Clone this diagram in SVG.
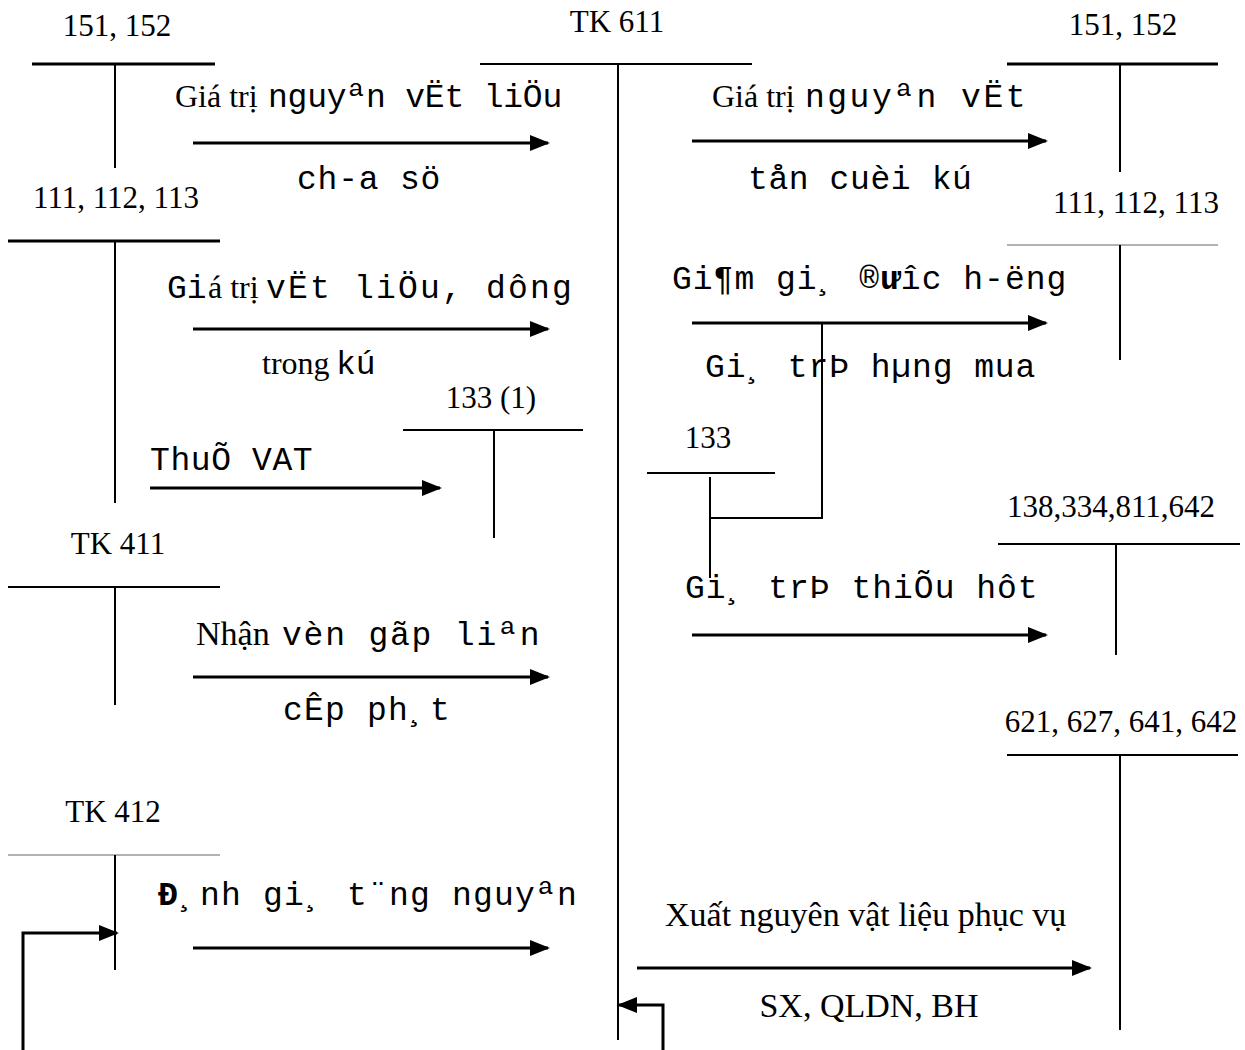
<svg xmlns="http://www.w3.org/2000/svg" width="1245" height="1050" viewBox="0 0 1245 1050">
<style>
.s{font-family:"Liberation Serif","Times New Roman",serif;font-size:32px;fill:#000}
.lbl{font-family:"Liberation Serif","Times New Roman",serif;font-size:31px;fill:#000}
.big{font-family:"Liberation Serif","Times New Roman",serif;font-size:34px;fill:#000}
.mono{font-family:"Liberation Mono","Courier New",monospace;font-size:33px;fill:#000}
.t{stroke:#000;stroke-width:2;fill:none}
.tk{stroke:#000;stroke-width:3;fill:none}
.tg{stroke:#999;stroke-width:1.5;fill:none}
.a{stroke:#000;stroke-width:3;fill:none;marker-end:url(#ah)}
</style>
<defs>
<marker id="ah" markerUnits="userSpaceOnUse" markerWidth="20" markerHeight="16" refX="18" refY="8" orient="auto">
<path d="M0,0 L20,8 L0,16 Z" fill="#000"/>
</marker>
</defs>
<rect width="1245" height="1050" fill="#fff"/>

<g id="tk611">
<text class="lbl" x="617" y="32" text-anchor="middle">TK 611</text>
<line class="t" x1="480" y1="64" x2="752" y2="64"/>
<line class="t" x1="618" y1="64" x2="618" y2="1040"/>
</g>
<g id="acc151L">
<text class="lbl" x="117" y="36" text-anchor="middle">151, 152</text>
<line class="tk" x1="32" y1="64" x2="215" y2="64"/>
<line class="t" x1="115" y1="64" x2="115" y2="168"/>
</g>
<g id="acc151R">
<text class="lbl" x="1123" y="35" text-anchor="middle">151, 152</text>
<line class="tk" x1="1007" y1="64" x2="1218" y2="64"/>
<line class="t" x1="1120" y1="64" x2="1120" y2="172"/>
</g>
<g id="acc111L">
<text class="lbl" x="116" y="208" text-anchor="middle">111, 112, 113</text>
<line class="tk" x1="8" y1="241" x2="220" y2="241"/>
<line class="t" x1="115" y1="241" x2="115" y2="503"/>
</g>
<g id="acc111R">
<text class="lbl" x="1136" y="213" text-anchor="middle">111, 112, 113</text>
<line class="tg" x1="1007" y1="245" x2="1218" y2="245"/>
<line class="t" x1="1120" y1="245" x2="1120" y2="360"/>
</g>
<g id="acc133-1">
<text class="lbl" x="491" y="408" text-anchor="middle">133 (1)</text>
<line class="t" x1="403" y1="430" x2="583" y2="430"/>
<line class="t" x1="494" y1="430" x2="494" y2="538"/>
</g>
<g id="acc133">
<text class="lbl" x="708" y="448" text-anchor="middle">133</text>
<line class="t" x1="647" y1="473" x2="775" y2="473"/>
<line class="t" x1="710" y1="477" x2="710" y2="578"/>
</g>
<g id="acc138">
<text class="lbl" x="1111" y="517" text-anchor="middle">138,334,811,642</text>
<line class="t" x1="998" y1="544" x2="1240" y2="544"/>
<line class="t" x1="1116" y1="544" x2="1116" y2="655"/>
</g>
<g id="tk411">
<text class="lbl" x="118" y="554" text-anchor="middle">TK 411</text>
<line class="t" x1="8" y1="587" x2="220" y2="587"/>
<line class="t" x1="115" y1="587" x2="115" y2="705"/>
</g>
<g id="acc621">
<text class="lbl" x="1121" y="732" text-anchor="middle">621, 627, 641, 642</text>
<line class="t" x1="1007" y1="755" x2="1238" y2="755"/>
<line class="t" x1="1120" y1="755" x2="1120" y2="1030"/>
</g>
<g id="tk412">
<text class="lbl" x="113" y="822" text-anchor="middle">TK 412</text>
<line class="tg" x1="8" y1="855" x2="220" y2="855"/>
<line class="t" x1="115" y1="855" x2="115" y2="970"/>
</g>

<g id="connectors">
<line class="a" x1="193" y1="143" x2="548" y2="143"/>
<line class="a" x1="692" y1="141" x2="1046" y2="141"/>
<line class="a" x1="193" y1="329" x2="548" y2="329"/>
<line class="a" x1="692" y1="323" x2="1046" y2="323"/>
<polyline class="t" points="822,323 822,518 710,518"/>
<line class="a" x1="150" y1="488" x2="440" y2="488"/>
<line class="a" x1="692" y1="635" x2="1046" y2="635"/>
<line class="a" x1="193" y1="677" x2="548" y2="677"/>
<line class="a" x1="193" y1="948" x2="548" y2="948"/>
<line class="a" x1="637" y1="968" x2="1090" y2="968"/>
<polyline class="a" points="23,1050 23,933 117,933"/>
<polyline class="a" points="663,1050 663,1005 619,1005"/>
</g>

<g id="labels">
<text class="s" x="175" y="107">Giá trị</text>
<text class="mono" x="268" y="107" letter-spacing="-0.2">nguyªn vËt liÖu</text>
<text class="mono" x="297" y="189" letter-spacing="0.8">ch-a sö</text>
<text class="s" x="712" y="107">Giá trị</text>
<text class="mono" x="805" y="107" letter-spacing="2.5">nguyªn vËt</text>
<text class="mono" x="748" y="189" letter-spacing="0.6">tån cuèi kú</text>
<text class="mono" x="167" y="298">Gi</text>
<text class="s" x="208" y="298">á trị</text>
<text class="mono" x="266" y="298" letter-spacing="2.2">vËt liÖu, dông</text>
<text class="s" x="262" y="374">trong</text>
<text class="mono" x="336" y="374">kú</text>
<text class="mono" x="672" y="289" letter-spacing="1">Gi¶m gi¸ ®<tspan font-weight="bold">ư</tspan>îc h-ëng</text>
<text class="mono" x="705" y="377" letter-spacing="0.9">Gi¸ trÞ hµng mua</text>
<text class="mono" x="150" y="470" letter-spacing="0.6">ThuÕ VAT</text>
<text class="mono" x="685" y="598" letter-spacing="1">Gi¸ trÞ thiÕu hôt</text>
<text class="big" x="196" y="645">Nhận</text>
<text class="mono" x="282" y="645" letter-spacing="1.8">vèn gãp liªn</text>
<text class="mono" x="283" y="720" letter-spacing="1.2">cÊp ph¸t</text>
<text class="mono" x="158" y="905" letter-spacing="1.2"><tspan font-weight="bold">Đ</tspan>¸nh gi¸ t¨ng nguyªn</text>
<text class="big" x="665" y="926">Xuất nguyên vật liệu phục vụ</text>
<text class="big" x="869" y="1017" text-anchor="middle">SX, QLDN, BH</text>
</g>
</svg>
